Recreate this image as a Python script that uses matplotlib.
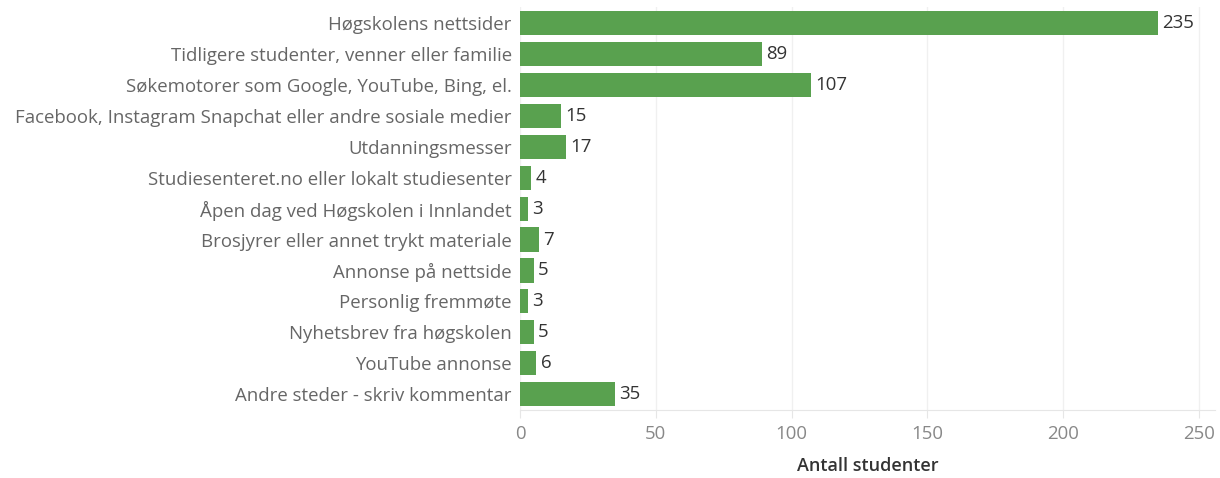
import matplotlib.pyplot as plt

categories = [
    "Høgskolens nettsider",
    "Tidligere studenter, venner eller familie",
    "Søkemotorer som Google, YouTube, Bing, el.",
    "Facebook, Instagram Snapchat eller andre sosiale medier",
    "Utdanningsmesser",
    "Studiesenteret.no eller lokalt studiesenter",
    "Åpen dag ved Høgskolen i Innlandet",
    "Brosjyrer eller annet trykt materiale",
    "Annonse på nettside",
    "Personlig fremmøte",
    "Nyhetsbrev fra høgskolen",
    "YouTube annonse",
    "Andre steder - skriv kommentar",
]
values = [235, 89, 107, 15, 17, 4, 3, 7, 5, 3, 5, 6, 35]
xticks = [0, 50, 100, 150, 200, 250]

plt.rcParams['font.family'] = ['Open Sans', 'DejaVu Sans']

fig = plt.figure(figsize=(12.2, 4.78), dpi=100)
ax = fig.add_axes([0.4262, 0.142, 0.5698, 0.843])

pos = list(range(len(categories)))
ax.barh(pos, values, height=0.78, color="#59A14F", zorder=3)
for p, v in zip(pos, values):
    ax.text(v + 1.6, p, str(v), va="center", ha="left", fontsize=13.4, color="#333333")

ax.set_ylim(12.52, -0.52)
ax.set_xlim(0, 256)
ax.set_yticks(pos)
ax.set_yticklabels(categories, fontsize=13.4, color="#666666")
ax.tick_params(axis="y", length=0, pad=6)
ax.set_xticks(xticks)
ax.set_xticklabels([str(t) for t in xticks], fontsize=13.4, color="#888888")
ax.tick_params(axis="x", length=6, color="#e6e6e6", pad=5)
ax.grid(axis="x", color="#f0f0f0", linewidth=1, zorder=0)
for s in ["top", "right", "left"]:
    ax.spines[s].set_visible(False)
ax.spines["bottom"].set_color("#e6e6e6")
ax.set_xlabel("Antall studenter", fontsize=13, fontweight="semibold", color="#333333", labelpad=10)

fig.savefig("out.png", dpi=100)
